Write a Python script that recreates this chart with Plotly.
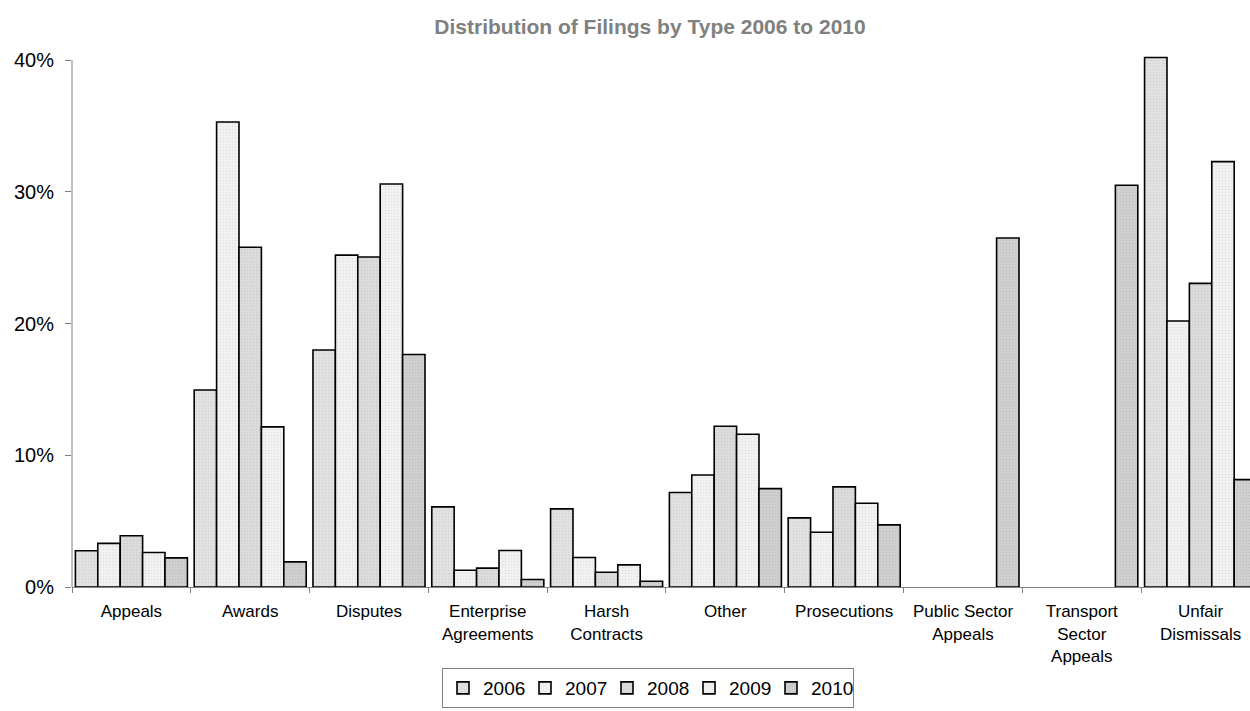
import plotly.graph_objects as go

# Filing types (category axis) and their tick labels
categories = [
    "Appeals", "Awards", "Disputes", "Enterprise Agreements", "Harsh Contracts",
    "Other", "Prosecutions", "Public Sector Appeals", "Transport Sector Appeals",
    "Unfair Dismissals",
]
tick_labels = [
    "Appeals", "Awards", "Disputes", "Enterprise<br>Agreements", "Harsh<br>Contracts",
    "Other", "Prosecutions", "Public Sector<br>Appeals", "Transport<br>Sector<br>Appeals",
    "Unfair<br>Dismissals",
]

years = ["2006", "2007", "2008", "2009", "2010"]

# Share of filings per type (fractions), one list per year; None = no filings of that type
share_2006 = [0.0275, 0.1496, 0.1800, 0.0608, 0.0593, 0.0717, 0.0525, None, None, 0.4020]
share_2007 = [0.0331, 0.3530, 0.2520, 0.0127, 0.0224, 0.0850, 0.0416, None, None, 0.2020]
share_2008 = [0.0389, 0.2580, 0.2506, 0.0143, 0.0112, 0.1220, 0.0760, None, None, 0.2305]
share_2009 = [0.0262, 0.1216, 0.3060, 0.0277, 0.0168, 0.1160, 0.0636, None, None, 0.3230]
share_2010 = [0.0221, 0.0191, 0.1765, 0.0057, 0.0044, 0.0747, 0.0472, 0.2650, 0.3050, 0.0815]

series = [share_2006, share_2007, share_2008, share_2009, share_2010]

# Fill (background, dot colour) for each year's dithered grey texture
fills = [
    ("#e2e2e2", "#c4c4c4"),
    ("#f2f2f2", "#d2d2d2"),
    ("#dcdcdc", "#bdbdbd"),
    ("#f3f3f3", "#c9c9c9"),
    ("#d0d0d0", "#b0b0b0"),
]

FONT = "Liberation Sans, Arial, sans-serif"
AXIS_GREY = "#808080"
Y_TOP = 0.40  # last labelled tick; the value axis line stops here

fig = go.Figure()
for year, values, (bg, fg) in zip(years, series, fills):
    fig.add_trace(go.Bar(
        name=year,
        x=categories,
        y=values,
        marker=dict(
            color=bg,
            line=dict(color="#000000", width=1.6),
            pattern=dict(shape=".", size=3, solidity=0.25, fgcolor=fg, bgcolor=bg),
        ),
    ))

# value axis line drawn only up to the top tick, leaving headroom for the tallest bar
fig.add_shape(
    type="line", xref="paper", yref="y",
    x0=0, x1=0, y0=0, y1=Y_TOP,
    line=dict(color=AXIS_GREY, width=1),
    layer="above",
)

fig.update_layout(
    width=1250,
    height=711,
    margin=dict(l=72, r=0, t=47, b=124),
    paper_bgcolor="white",
    plot_bgcolor="white",
    barmode="group",
    bargap=0.057,
    bargroupgap=0,
    font=dict(family=FONT, color="#000000"),
    title=dict(
        text="<b>Distribution of Filings by Type 2006 to 2010</b>",
        font=dict(family=FONT, size=21, color=AXIS_GREY),
        x=650 / 1250, xanchor="center", xref="container",
        y=1 - 27 / 711, yanchor="middle", yref="container",
    ),
    legend=dict(
        orientation="h",
        xref="container", yref="container",
        x=648 / 1250, xanchor="center",
        y=1 - 668 / 711, yanchor="top",
        bordercolor=AXIS_GREY, borderwidth=1,
        bgcolor="white",
        font=dict(family=FONT, size=19, color="#000000"),
        itemwidth=30,
        entrywidth=37,
        tracegroupgap=0,
    ),
    showlegend=True,
)

fig.update_xaxes(
    type="category",
    range=[-0.5, 9.416],
    tickmode="array",
    tickvals=categories,
    ticktext=tick_labels,
    tickson="boundaries",
    ticks="outside",
    ticklen=5,
    tickcolor=AXIS_GREY,
    showline=True,
    linecolor=AXIS_GREY,
    linewidth=1,
    showgrid=False,
    zeroline=False,
    tickfont=dict(family=FONT, size=17, color="#000000"),
    tickangle=0,
    ticklabelstandoff=9,
)

fig.update_yaxes(
    range=[0, 0.41],
    tickvals=[0, 0.1, 0.2, 0.3, Y_TOP],
    tickformat=".0%",
    ticks="outside",
    ticklen=6,
    tickcolor=AXIS_GREY,
    showline=False,
    showgrid=False,
    zeroline=False,
    tickfont=dict(family=FONT, size=20, color="#000000"),
    ticklabelstandoff=7,
)

fig.write_html("out.html")
